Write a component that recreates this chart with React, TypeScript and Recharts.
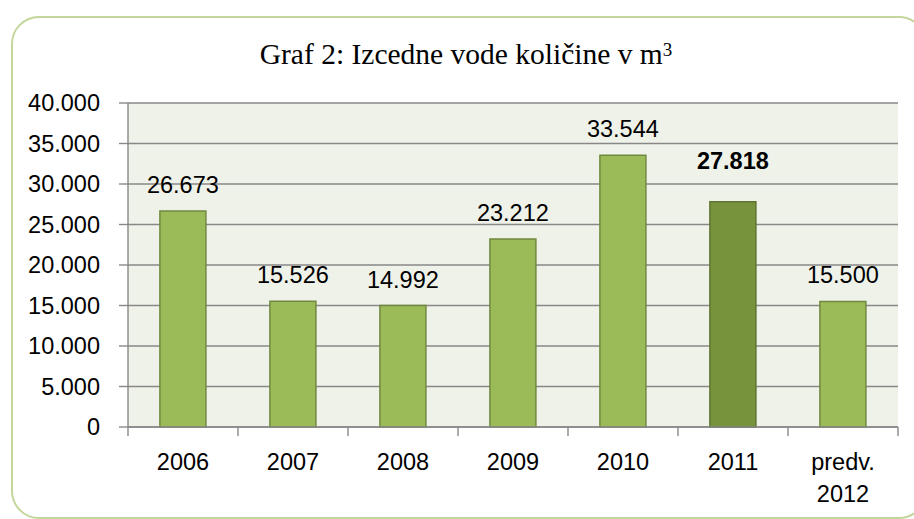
import React from 'react';
import { BarChart, Bar, XAxis, YAxis, CartesianGrid, Cell, LabelList } from 'recharts';

const categories = ['2006', '2007', '2008', '2009', '2010', '2011', 'predv. 2012'];
const values = [26673, 15526, 14992, 23212, 33544, 27818, 15500];
const highlighted = '2011';
const yTicks = [0, 5000, 10000, 15000, 20000, 25000, 30000, 35000, 40000];
const titleText = 'Graf 2: Izcedne vode količine v m';

const data = categories.map((c, i) => ({ name: c, value: values[i] }));

const fmt = (v: number) => v.toLocaleString('de-DE');

const FONT = '"Liberation Sans", Arial, sans-serif';
const AXIS = '#888';

const XTick = (props: any) => {
  const { x, y, payload, index, width, visibleTicksCount } = props;
  const parts = String(payload.value).split(' ');
  const n = visibleTicksCount || categories.length;
  const band = (width || 770) / n;
  const left = x - band / 2;
  return (
    <g>
      <line x1={left} x2={left} y1={y} y2={y + 9} stroke={AXIS} strokeWidth={1.4} />
      {index === n - 1 && (
        <line x1={x + band / 2} x2={x + band / 2} y1={y} y2={y + 9} stroke={AXIS} strokeWidth={1.4} />
      )}
      <text x={x} y={y} textAnchor="middle" fontFamily={FONT} fontSize={23.5} fill="#000">
        {parts.map((p: string, i: number) => (
          <tspan key={i} x={x} dy={i === 0 ? 43 : 32}>{p}</tspan>
        ))}
      </text>
    </g>
  );
};

const BarLabel = (props: any) => {
  const { x, y, width, value, index } = props;
  const isHi = categories[index] === highlighted;
  return (
    <text
      x={x + width / 2}
      y={y - (isHi ? 33 : 18)}
      textAnchor="middle"
      fontFamily={FONT}
      fontSize={23.5}
      fontWeight={isHi ? 'bold' : 'normal'}
      fill="#000"
    >
      {fmt(value)}
    </text>
  );
};

export default function App() {
  return (
    <div style={{ position: 'absolute', left: 0, top: 0, width: 914, height: 519, overflow: 'hidden', background: '#fff' }}>
      <div
        style={{
          position: 'absolute',
          left: 11,
          top: 16,
          width: 912,
          height: 499,
          border: '2px solid #c3d69b',
          borderRadius: 28,
        }}
      />
      <div
        style={{
          position: 'absolute',
          left: 0,
          width: 932,
          top: 34,
          textAlign: 'center',
          fontFamily: '"Liberation Serif", "Times New Roman", serif',
          fontSize: 29.5,
          lineHeight: '40px',
          color: '#000',
        }}
      >
        {titleText}
        <sup style={{ fontSize: 19, verticalAlign: 'top', position: 'relative', top: -4 }}>3</sup>
      </div>
      <div style={{ position: 'absolute', left: 0, top: 0 }}>
        <BarChart
          width={914}
          height={519}
          data={data}
          margin={{ top: 103, right: 16, left: 0, bottom: 32 }}
          barCategoryGap="29%"
        >
          <CartesianGrid vertical={false} stroke={AXIS} strokeWidth={1.4} fill="#eff2e9" />
          <XAxis
            dataKey="name"
            height={60}
            axisLine={{ stroke: AXIS, strokeWidth: 1.4 }}
            tickLine={false}
            tickSize={0}
            tickMargin={0}
            tick={<XTick />}
            interval={0}
          />
          <YAxis
            width={128}
            domain={[0, 40000]}
            ticks={yTicks}
            tickFormatter={fmt}
            axisLine={{ stroke: AXIS, strokeWidth: 1.4 }}
            tickLine={{ stroke: AXIS, strokeWidth: 1.4 }}
            tickSize={9}
            tickMargin={19}
            tick={{ fontFamily: FONT, fontSize: 23.5, fill: '#000' }}
            interval={0}
          />
          <Bar dataKey="value" isAnimationActive={false} stroke="#71893f" strokeWidth={1.5}>
            {data.map((d, i) => (
              <Cell
                key={i}
                fill={d.name === highlighted ? '#77933c' : '#9bbb59'}
                stroke={d.name === highlighted ? '#5f7530' : '#71893f'}
              />
            ))}
            <LabelList dataKey="value" content={<BarLabel />} />
          </Bar>
        </BarChart>
      </div>
    </div>
  );
}
